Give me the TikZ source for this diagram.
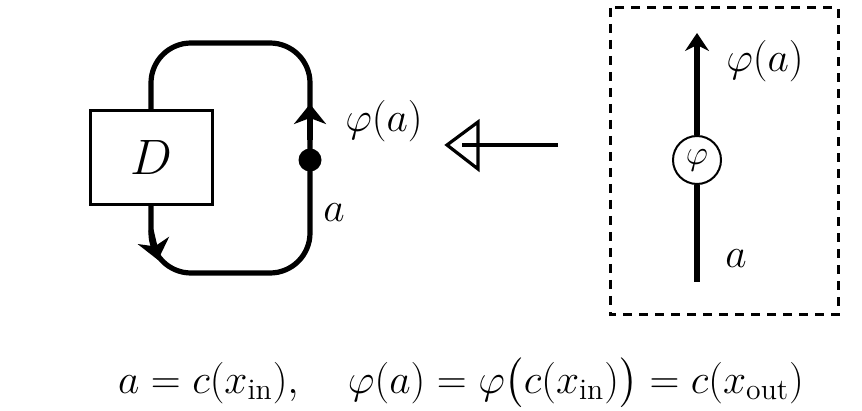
\documentclass[tikz,border=0pt]{standalone}
\usepackage{amsmath}
\usetikzlibrary{arrows.meta}
\begin{document}
\begin{tikzpicture}[x=0.5pt,y=-0.5pt,
  wire/.style={line width=2.6pt},
  lbl/.style={inner sep=0pt,font=\fontsize{21.2}{24}\selectfont},
  looptip/.style={-{Stealth[length=10pt,width=16pt,inset=3pt]}},
]
\useasboundingbox (0,0) rectangle (862,411);
% left diagram
\node[draw,line width=1.4pt,minimum width=61pt,minimum height=47pt,inner sep=0pt,font=\fontsize{24}{26}\selectfont] (D) at (151.5,157.5) {$D$};
\coordinate (dbot) at (151,205);
\coordinate (dtop) at (151,110);
\coordinate (bl) at (151,273);
\coordinate (br) at (310,273);
\coordinate (tr) at (310,43);
\coordinate (tl) at (151,43);
\draw[wire,rounded corners=20pt] (dbot) -- (bl) -- (br) -- (tr) -- (tl) -- (dtop);
\coordinate (a1s) at (151,230);
\coordinate (a1e) at (158,260);
\draw[wire,looptip] (a1s) -- (a1e);
\coordinate (a2s) at (310,140);
\coordinate (a2e) at (310,104);
\draw[wire,looptip] (a2s) -- (a2e);
\node[circle,fill,inner sep=0pt,minimum size=11.5pt] (dot) at (310,160) {};
\node[lbl] (phiL) at (384,121) {$\varphi(a)$};
\node[lbl] (aL) at (334,213) {$a$};
% hollow arrow
\coordinate (hs) at (558,145);
\coordinate (ht) at (447,145);
\coordinate (hb1) at (478,122);
\coordinate (hb2) at (478,169);
\draw[line width=1.6pt] (hs) -- (462,145);
\draw[line width=1.6pt,line join=miter] (ht) -- (hb1) -- (hb2) -- cycle;
% right box
\draw[line width=1.5pt,dash pattern=on 4.5pt off 3.5pt] (610,8) rectangle (838,315);
\node[draw,circle,line width=1pt,minimum size=24pt,inner sep=0pt,font=\fontsize{16}{18}\selectfont] (phi) at (697,160) {$\varphi$};
\coordinate (rb) at (697,282);
\coordinate (rt) at (697,33);
\draw[wire] (rb) -- (phi.south);
\draw[wire,-{Stealth[length=9pt,width=12pt,inset=3pt]}] (phi.north) -- (rt);
\node[lbl] (phiR) at (765,61) {$\varphi(a)$};
\node[lbl] (aR) at (736,259) {$a$};
% formula
\node[lbl,anchor=base] (eq) at (461,393) {$a=c(x_{\text{in}}),\quad \varphi(a)=\varphi\bigl(c(x_{\text{in}})\bigr)=c(x_{\text{out}})$};
\end{tikzpicture}
\end{document}
